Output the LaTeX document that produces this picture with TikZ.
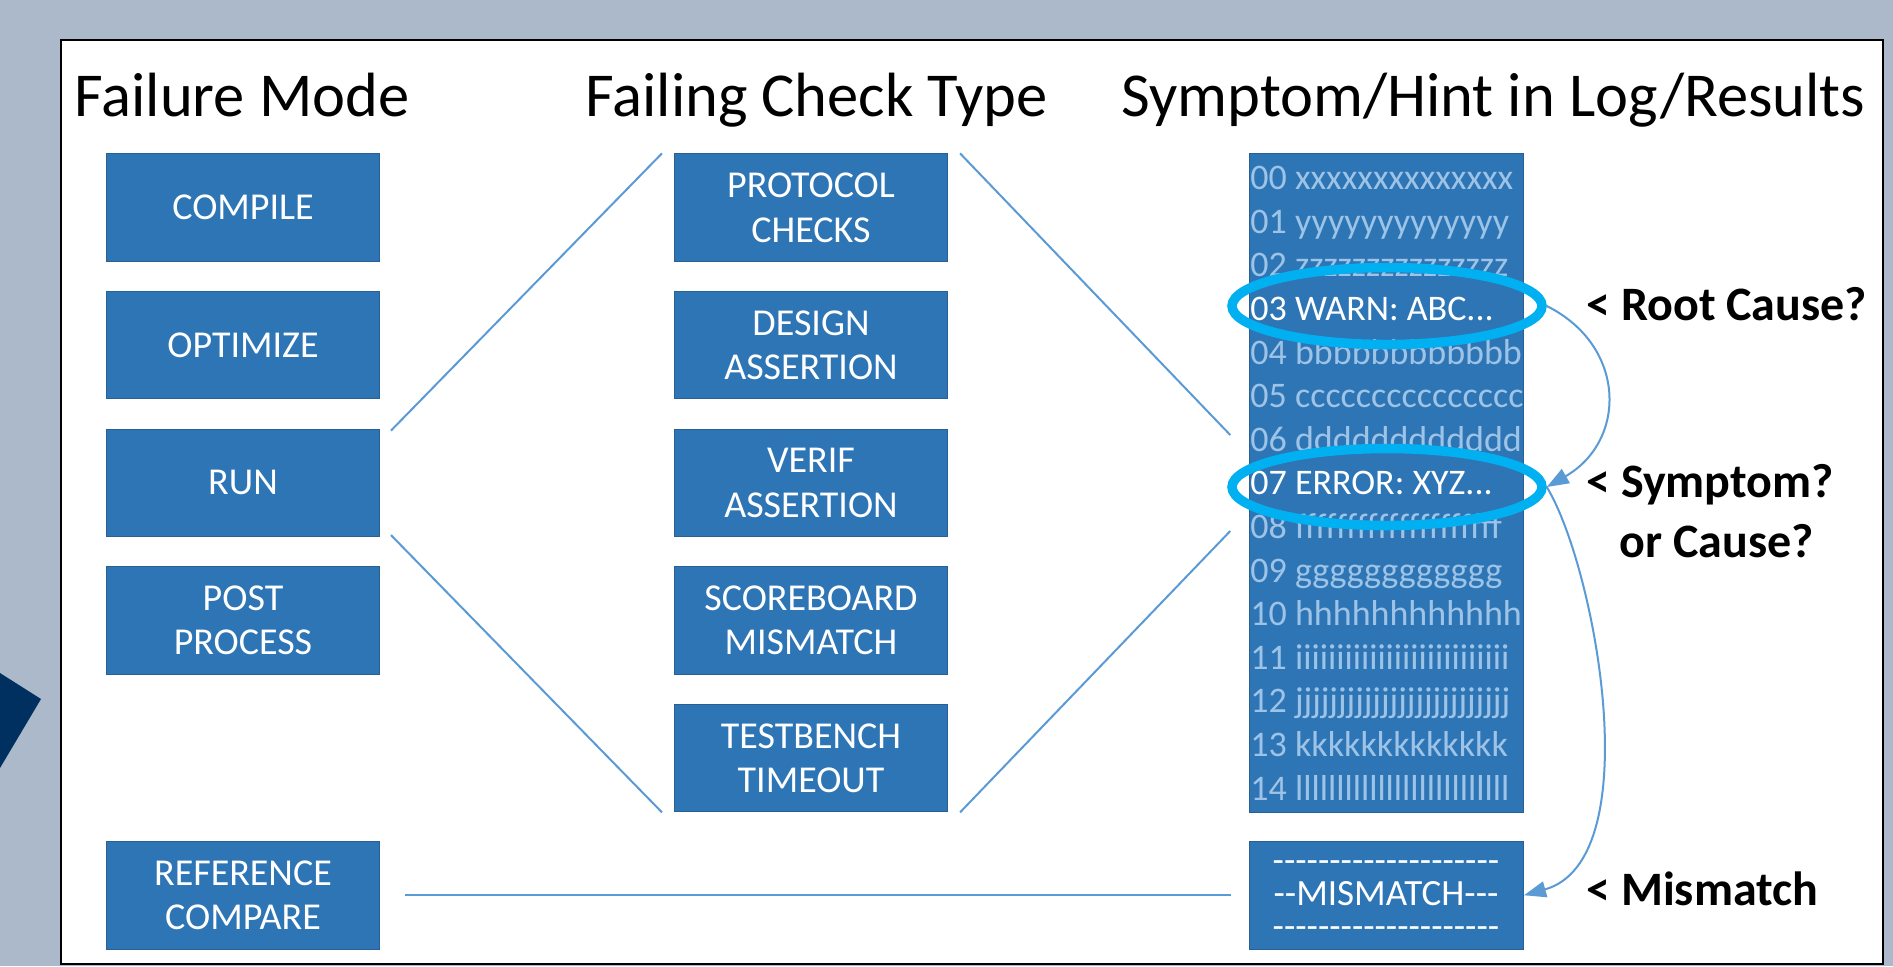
\documentclass[tikz,border=0pt]{standalone}
\usepackage{fontspec}
\setmainfont{Carlito}
\usetikzlibrary{arrows.meta,shapes.geometric,calc}
\definecolor{bgc}{HTML}{ABB9CA}
\definecolor{boxfill}{HTML}{2E75B6}
\definecolor{boxline}{HTML}{2A5F91}
\definecolor{logtxt}{HTML}{9DC3E6}
\definecolor{linkc}{HTML}{5B9BD5}
\definecolor{ringc}{HTML}{00B0F0}
\definecolor{navy}{HTML}{003060}
% a run of plain hyphens (no TeX dash ligatures)
\newcommand\hyphens[1]{\foreach \k in {1,...,#1}{-{}}}
\begin{document}
\begin{tikzpicture}[x=0.5pt,y=-0.5pt,
  stepbox/.style={draw=boxline, line width=0.5pt, fill=boxfill,
    minimum width=136.5pt, minimum height=53.75pt, inner sep=0pt,
    anchor=north west, text=white, align=center,
    font=\fontsize{19}{22.3}\selectfont},
  title/.style={anchor=base west, inner sep=0pt, font=\fontsize{31.25}{36}\selectfont},
  note/.style={anchor=base west, inner sep=0pt, font=\bfseries\fontsize{24}{28}\selectfont},
  logline/.style={anchor=base west, inner sep=0pt, text=logtxt,
    font=\fontsize{18}{21}\selectfont},
  hotline/.style={logline, text=white},
  mmline/.style={anchor=base, inner sep=0pt, text=white,
    font=\fontsize{18.5}{21}\selectfont},
  ring/.style={draw=ringc, line width=4.75pt, ellipse, minimum width=155pt,
    minimum height=38.5pt, inner sep=0pt},
  link/.style={draw=linkc, line width=1pt},
  tip/.style={-{Triangle[length=11pt,width=8pt]}}
]
% canvas and frame
\useasboundingbox (0,0) rectangle (1893,966);
\fill[bgc] (0,0) rectangle (1893,966);
\fill[navy] (0,673) -- (41,699) -- (0,768) -- cycle;
\draw[line width=1.25pt, fill=white] (61,40) rectangle (1883,964);

% column headings
\node[title] (t1) at (74,116) {Failure Mode};
\node[title] (t2) at (585,116) {Failing Check Type};
\node[title] (t3) at (1121,116) {Symptom/Hint in Log/Results};

% failure modes
\node[stepbox] (comp) at (106,153.3) {COMPILE};
\node[stepbox] (opt)  at (106,290.9) {OPTIMIZE};
\node[stepbox] (run)  at (106,428.6) {RUN};
\node[stepbox] (post) at (106,566.2) {POST\\PROCESS};
\node[stepbox] (refc) at (106,841) {REFERENCE\\COMPARE};

% failing check types
\node[stepbox] (p1) at (674,153.3) {PROTOCOL\\CHECKS};
\node[stepbox] (p2) at (674,290.9) {DESIGN\\ASSERTION};
\node[stepbox] (p3) at (674,428.6) {VERIF\\ASSERTION};
\node[stepbox] (p4) at (674,566.2) {SCOREBOARD\\MISMATCH};
\node[stepbox] (p5) at (674,703.9) {TESTBENCH\\TIMEOUT};

% log window
\node[stepbox, minimum width=137pt, minimum height=329.5pt] (log) at (1249,153.3) {};
\begin{scope}
  \clip (1249,153.3) rectangle (1523,812);
  \foreach \i/\t in {0/00 xxxxxxxxxxxxxx, 1/01 yyyyyyyyyyyyy, 2/02 zzzzzzzzzzzzzzz,
      4/04 bbbbbbbbbbbb, 5/05 ccccccccccccccc, 6/06 dddddddddddd,
      8/08 ffffffffffffffffffff, 9/09 gggggggggggg, 10/10 hhhhhhhhhhhh,
      11/11 iiiiiiiiiiiiiiiiiiiiiiiiii, 12/12 jjjjjjjjjjjjjjjjjjjjjjjjj,
      13/13 kkkkkkkkkkkkk, 14/14 llllllllllllllllllllllllll}
    \node[logline] (l\i) at (1250,{189.6+43.6*\i}) {\t};
  \node[hotline] (l3) at (1250,320.4) {03 WARN: ABC...};
  \node[hotline] (l7) at (1250,494.8) {07 ERROR: XYZ...};
\end{scope}

% mismatch window
\node[stepbox, minimum width=137pt] (mm) at (1249,841) {};
\node[mmline] (m1) at (1386,872) {\hyphens{20}};
\node[mmline] (m2) at (1386,905) {\hyphens{2}MISMATCH\hyphens{3}};
\node[mmline] (m3) at (1386,938) {\hyphens{20}};

% highlighted log lines
\node[ring] (e3) at (1387,306) {};
\node[ring] (e7) at (1387,487) {};

% fan-out connectors
\draw[link] ([shift={(11,2)}]run.north east) -- ([shift={(-12,0)}]p1.north west);
\draw[link] ([shift={(11,-2)}]run.south east) -- ([shift={(-12,0)}]p5.south west);
\draw[link] ([shift={(12,0)}]p1.north east) -- ($(e7.west)+(3,-52)$);
\draw[link] ([shift={(12,0)}]p5.south east) -- ($(e7.west)+(3,44)$);
\draw[link] ([shift={(25,0)}]refc.east) -- ([shift={(-18,0)}]mm.west);

% cause chain
\draw[link, tip] (e3.east) .. controls (1627,346) and (1627,441) .. (e7.east);
\draw[link, tip] (e7.east) .. controls (1595,566) and (1650,860) .. (mm.east);

% annotations
\node[note] (n1) at (1586,320) {< Root Cause?};
\node[note] (n2) at (1586,497) {< Symptom?};
\node[note] (n3) at (1619,557) {or Cause?};
\node[note] (n4) at (1586,905) {< Mismatch};
\end{tikzpicture}
\end{document}
